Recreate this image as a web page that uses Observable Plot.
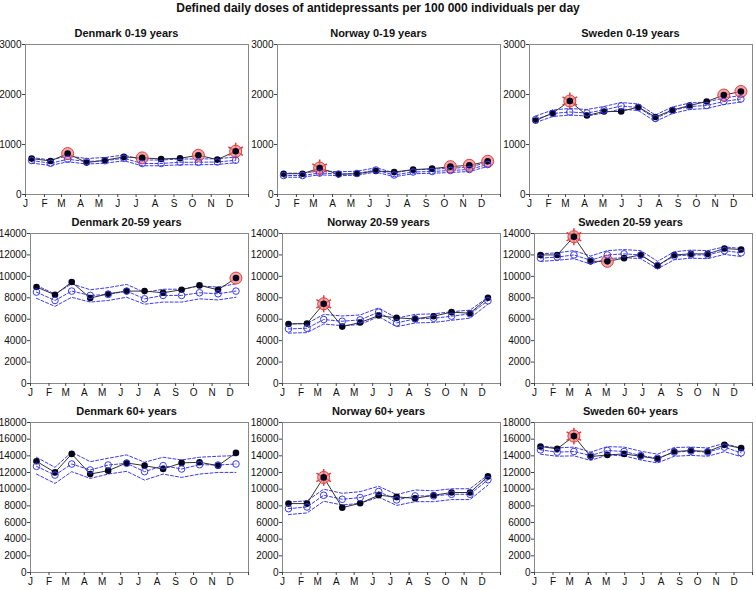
<!DOCTYPE html>
<html><head><meta charset="utf-8">
<script src="https://cdn.jsdelivr.net/npm/d3@7"></script>
<script src="https://cdn.jsdelivr.net/npm/@observablehq/plot@0.6"></script>
<style>
body{margin:0;background:#fff;font-family:"Liberation Sans",Arial,sans-serif;}
#wrap{position:relative;width:756px;height:590px;overflow:hidden;background:#fff;}
#title{position:absolute;top:0;left:0;width:756px;text-align:center;font-weight:bold;font-size:12px;line-height:16px;color:#111;}
.panel{position:absolute;width:252px;height:189px;}
.panel svg{overflow:visible;}
</style></head><body>
<div id="wrap"><div id="title">Defined daily doses of antidepressants per 100 000 individuals per day</div></div>
<script>
// ---- data ----
const monthLabels = ["J","F","M","A","M","J","J","A","S","O","N","D"];
const monthStarts = [0,31,59,90,120,151,181,212,243,273,304,334];
const yearEnd = 365;
const pointDayOffset = 10;     // observations plotted ~10 days into each period
const swedenPeriodDays = 28;   // Sweden reports 13 four-week periods

const rowYMax = [3000, 14000, 18000];
const rowYTicks = [[0,1000,2000,3000],[0,2000,4000,6000,8000,10000,12000,14000],[0,2000,4000,6000,8000,10000,12000,14000,16000,18000]];
const countries = ["Denmark","Norway","Sweden"];
const ageGroups = ["0-19 years","20-59 years","60+ years"];

// Denmark 0-19
const dk019Obs = [718,671,819,638,685,752,732,711,725,785,698,866];
const dk019Exp = [680,625,705,660,675,725,620,620,645,645,650,685];
const dk019Upp = [740,690,770,720,740,790,690,690,710,710,715,750];
const dk019Low = [630,580,655,610,625,675,575,575,595,595,600,635];
const dk019Circle = [2,6,9], dk019Star = [11];
// Norway 0-19
const no019Obs = [416,416,530,403,416,470,450,497,517,557,584,664];
const no019Exp = [380,380,430,410,420,490,390,450,460,480,500,600];
const no019Upp = [425,425,475,455,465,535,435,495,505,525,545,645];
const no019Low = [345,345,395,375,385,450,355,415,425,440,460,560];
const no019Circle = [9,10,11], no019Star = [2];
// Sweden 0-19 (13 periods)
const se019Obs = [1480,1630,1870,1580,1660,1660,1750,1550,1690,1780,1860,1990,2060];
const se019Exp = [1500,1620,1650,1630,1690,1770,1740,1520,1680,1760,1780,1860,1910];
const se019Upp = [1570,1690,1720,1700,1760,1840,1810,1590,1750,1830,1850,1930,1980];
const se019Low = [1440,1560,1590,1570,1630,1710,1680,1460,1620,1700,1720,1800,1850];
const se019Circle = [11,12], se019Star = [2];
// Denmark 20-59
const dk2059Obs = [9000,8280,9470,7970,8375,8625,8625,8470,8750,9156,8750,9840];
const dk2059Exp = [8530,7750,8625,8220,8310,8625,7900,8220,8220,8470,8375,8625];
const dk2059Upp = [9150,8350,9300,8750,8950,9250,8500,8800,8800,9100,9000,9300];
const dk2059Low = [7950,7200,8050,7600,7750,8050,7400,7600,7600,7900,7800,8050];
const dk2059Circle = [11], dk2059Star = [];
// Norway 20-59
const no2059Obs = [5560,5590,7440,5310,5690,6340,6125,6030,6280,6660,6560,8000];
const no2059Exp = [5090,5160,5970,5810,5940,6660,5660,6030,6090,6280,6500,7720];
const no2059Upp = [5550,5600,6450,6300,6400,7050,6100,6450,6500,6700,6850,8050];
const no2059Low = [4700,4750,5550,5400,5500,6250,5300,5650,5700,5900,6100,7400];
const no2059Circle = [], no2059Star = [2];
// Sweden 20-59 (13 periods)
const se2059Obs = [12000,12000,13700,11400,11400,11700,12000,11000,12000,12100,12100,12600,12500];
const se2059Exp = [11700,11800,12000,11500,12000,12100,12000,11000,11900,12000,12000,12400,12200];
const se2059Upp = [12100,12200,12400,11900,12400,12500,12400,11400,12300,12450,12400,12750,12600];
const se2059Low = [11400,11500,11650,11150,11650,11750,11650,10700,11550,11700,11650,12050,11850];
const se2059Circle = [4], se2059Star = [2];
// Denmark 60+
const dk60Obs = [13350,12010,14230,11810,12220,13150,12820,12420,13150,13230,12820,14350];
const dk60Exp = [12740,11690,13020,12300,12900,13100,12100,12820,12420,12940,12900,13020];
const dk60Upp = [13830,12620,14440,13300,13710,14110,13230,13830,13500,13830,13950,14030];
const dk60Low = [11810,10690,12100,11290,11810,12140,11090,11810,11410,11810,12010,12010];
const dk60Circle = [], dk60Star = [];
// Norway 60+
const no60Obs = [8270,8270,11410,7780,8310,9270,9070,8910,9270,9600,9600,11530];
const no60Exp = [7660,7860,9270,8790,8990,9720,8710,9190,9190,9390,9390,11130];
const no60Upp = [8450,8600,10000,9500,9700,10350,9350,9900,9800,10050,10050,11700];
const no60Low = [6950,7150,8550,8100,8300,9050,8050,8500,8500,8750,8750,10500];
const no60Circle = [], no60Star = [2];
// Sweden 60+ (13 periods)
const se60Obs = [15120,14840,16370,13910,14110,14230,13950,13630,14520,14640,14520,15320,14920];
const se60Exp = [14720,14440,14520,14030,14640,14520,14030,13710,14440,14560,14440,15040,14360];
const se60Upp = [15200,14950,15050,14450,15100,15050,14550,14200,15000,15050,14950,15500,14900];
const se60Low = [14200,13950,14000,13450,14100,14000,13500,13150,13950,14050,13950,14500,13900];
const se60Circle = [], se60Star = [2];

const panels = [
  [dk019Obs,dk019Exp,dk019Upp,dk019Low,dk019Circle,dk019Star],
  [no019Obs,no019Exp,no019Upp,no019Low,no019Circle,no019Star],
  [se019Obs,se019Exp,se019Upp,se019Low,se019Circle,se019Star],
  [dk2059Obs,dk2059Exp,dk2059Upp,dk2059Low,dk2059Circle,dk2059Star],
  [no2059Obs,no2059Exp,no2059Upp,no2059Low,no2059Circle,no2059Star],
  [se2059Obs,se2059Exp,se2059Upp,se2059Low,se2059Circle,se2059Star],
  [dk60Obs,dk60Exp,dk60Upp,dk60Low,dk60Circle,dk60Star],
  [no60Obs,no60Exp,no60Upp,no60Low,no60Circle,no60Star],
  [se60Obs,se60Exp,se60Upp,se60Low,se60Circle,se60Star]
];

// ---- drawing ----
const blue = "#3b3bf0";
const wrap = document.getElementById("wrap");
const rowTop = [18, 207, 396];
const rowMarginLeft = [25, 30, 30];

panels.forEach((p, idx) => {
  const r = Math.floor(idx / 3), c = idx % 3;
  const [obs, exp, upp, low, circ, star] = p;
  const isSweden = countries[c] === "Sweden";
  const rows = obs.map((v, i) => ({
    day: (isSweden ? i * swedenPeriodDays : monthStarts[i]) + pointDayOffset,
    obs: v, exp: exp[i], upp: upp[i], low: low[i],
    circ: circ.includes(i), star: star.includes(i)
  }));
  const ml = rowMarginLeft[r];
  const title = countries[c] + " " + ageGroups[r];
  const chart = Plot.plot({
    width: 252, height: 189,
    marginTop: 26, marginBottom: 13, marginLeft: ml, marginRight: 4,
    style: {fontFamily: "'Liberation Sans', Arial, sans-serif", fontSize: "10px", overflow: "visible", background: "transparent", color: "#111"},
    x: {domain: [0, yearEnd], axis: null},
    y: {domain: [0, rowYMax[r]], axis: null},
    marks: [
      Plot.frame({stroke: "#888"}),
      Plot.axisY({anchor: "left", label: null, ticks: rowYTicks[r], tickSize: 3, tickPadding: 1, tickFormat: d => String(d), stroke: "#444"}),
      Plot.axisX({anchor: "bottom", label: null, ticks: [...monthStarts, yearEnd], tickSize: 3, tickPadding: 2,
        tickFormat: d => { const k = monthStarts.indexOf(d); return k < 0 ? "" : monthLabels[k]; }, stroke: "#444"}),
      Plot.text([title], {frameAnchor: "top", dy: -15, dx: 2 - ml / 2, fontWeight: "bold", fontSize: 11, fill: "#111"}),
      Plot.line(rows, {x: "day", y: "upp", stroke: blue, strokeWidth: 1, strokeDasharray: "3,2"}),
      Plot.line(rows, {x: "day", y: "low", stroke: blue, strokeWidth: 1, strokeDasharray: "3,2"}),
      Plot.line(rows, {x: "day", y: "exp", stroke: blue, strokeWidth: 1, strokeDasharray: "3,2"}),
      Plot.line(rows, {x: "day", y: "obs", stroke: "#333", strokeWidth: 1}),
      Plot.dot(rows.filter(d => d.star), {x: "day", y: "obs", symbol: "asterisk", r: 8, stroke: "#e23b3b", strokeWidth: 1.5}),
      Plot.dot(rows.filter(d => d.star || d.circ), {x: "day", y: "obs", r: 6, fill: "#f08080", fillOpacity: 0.7, stroke: "#e04040", strokeWidth: 1}),
      Plot.dot(rows, {x: "day", y: "obs", r: 3.3, fill: "#05051e", stroke: "none"}),
      Plot.dot(rows, {x: "day", y: "exp", r: 3.3, fill: "none", stroke: blue, strokeWidth: 1})
    ]
  });
  const div = document.createElement("div");
  div.className = "panel";
  div.style.left = (c * 252) + "px";
  div.style.top = rowTop[r] + "px";
  div.appendChild(chart);
  wrap.appendChild(div);
});
</script>
</body></html>
